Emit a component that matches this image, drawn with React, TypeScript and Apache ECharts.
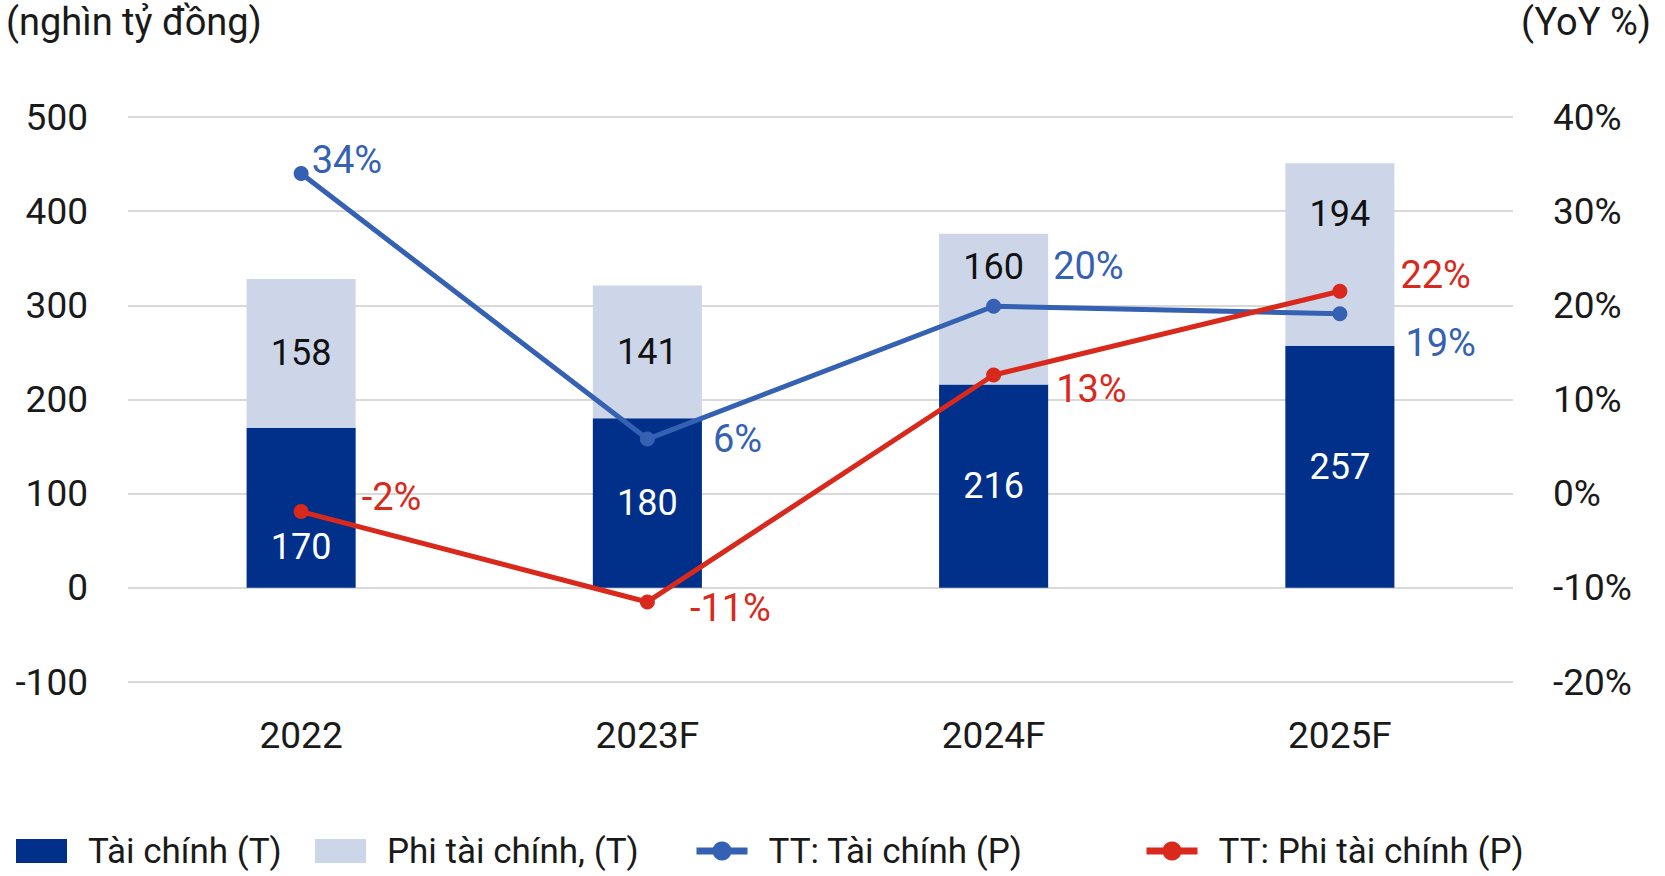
import React, { useEffect, useRef } from "react";
import * as echarts from "echarts";

const categories = ["2022", "2023F", "2024F", "2025F"];
const taiChinh = [170, 180, 216, 257];
const phiTaiChinh = [158, 141, 160, 194];
const ttTaiChinh = [34, 5.8, 19.9, 19.1];
const ttPhiTaiChinh = [-1.9, -11.5, 12.6, 21.5];

const leftTicks = { min: -100, max: 500, interval: 100 };
const rightTicks = { min: -20, max: 40, interval: 10 };

const FONT = "Roboto";
const DARK = "#00308a";
const LIGHT = "#cdd6e8";
const BLUE = "#3461b2";
const RED = "#d9291c";

// label offsets (style only)
const blueOffsets = [[3, -14], [58, 0], [52, -40], [58, 29]];
const redOffsets = [[53, -15], [35, 6], [55, 14], [53, -16]];
const darkLabelOffsets = [[0, 39], [0, 0], [0, 0], [0, 0]];
const lightLabelOffsets = [[0, 0], [0, 0], [0, -42], [0, -40]];

export default function App() {
  const ref = useRef<HTMLDivElement>(null);
  useEffect(() => {
    if (!ref.current) return;
    const chart = echarts.init(ref.current, null, { renderer: "svg" });
    const legendBase = {
      top: 828,
      itemHeight: 24,
      itemWidth: 51,
      itemGap: 10,
      textStyle: {
        fontFamily: FONT,
        fontSize: 35,
        lineHeight: 36,
        color: "#1a1a1a",
        padding: [0, 0, 0, 16],
      },
      selectedMode: false,
    };
    chart.setOption({
      animation: false,
      backgroundColor: "#ffffff",
      textStyle: { fontFamily: FONT },
      grid: { left: 128, right: 152, top: 117, bottom: 194 },
      graphic: [
        {
          type: "text",
          left: 6,
          top: 3,
          style: { text: "(nghìn tỷ đồng)", fontFamily: FONT, fontSize: 38, fill: "#1a1a1a" },
        },
        {
          type: "text",
          right: 14,
          top: 3,
          style: { text: "(YoY %)", fontFamily: FONT, fontSize: 38, fill: "#1a1a1a" },
        },
      ],
      legend: [
        { ...legendBase, left: 11, data: [{ name: "Tài chính (T)", icon: "rect" }] },
        { ...legendBase, left: 310, data: [{ name: "Phi tài chính, (T)", icon: "rect" }] },
        { ...legendBase, left: 688, data: [{ name: "TT: Tài chính (P)", lineStyle: { width: 7 } }] },
        { ...legendBase, left: 1138, data: [{ name: "TT: Phi tài chính (P)", lineStyle: { width: 7 } }] },
      ],
      xAxis: {
        type: "category",
        data: categories,
        axisLine: { show: false },
        axisTick: { show: false },
        axisLabel: { fontFamily: FONT, fontSize: 37, color: "#1a1a1a", margin: 35 },
      },
      yAxis: [
        {
          type: "value",
          ...leftTicks,
          position: "left",
          axisLine: { show: false },
          axisTick: { show: false },
          splitLine: { lineStyle: { color: "#d9d9d9", width: 2 } },
          axisLabel: { fontFamily: FONT, fontSize: 37, color: "#1a1a1a", margin: 40 },
        },
        {
          type: "value",
          ...rightTicks,
          position: "right",
          axisLine: { show: false },
          axisTick: { show: false },
          splitLine: { show: false },
          axisLabel: {
            fontFamily: FONT,
            fontSize: 37,
            color: "#1a1a1a",
            margin: 40,
            formatter: (v: number) => `${v}%`,
          },
        },
      ],
      series: [
        {
          name: "Tài chính (T)",
          type: "bar",
          stack: "total",
          barWidth: "31.5%",
          itemStyle: { color: DARK },
          data: taiChinh.map((v, i) => ({
            value: v,
            label: { offset: darkLabelOffsets[i] },
          })),
          label: {
            show: true,
            position: "inside",
            color: "#ffffff",
            fontFamily: FONT,
            fontSize: 36,
          },
          z: 2,
        },
        {
          name: "Phi tài chính, (T)",
          type: "bar",
          stack: "total",
          barWidth: "31.5%",
          itemStyle: { color: LIGHT },
          data: phiTaiChinh.map((v, i) => ({
            value: v,
            label: { offset: lightLabelOffsets[i] },
          })),
          label: {
            show: true,
            position: "inside",
            color: "#111111",
            fontFamily: FONT,
            fontSize: 36,
          },
          z: 2,
        },
        {
          name: "TT: Tài chính (P)",
          type: "line",
          yAxisIndex: 1,
          symbol: "circle",
          symbolSize: 15,
          itemStyle: { color: BLUE },
          lineStyle: { color: BLUE, width: 5 },
          data: ttTaiChinh.map((v, i) => ({
            value: v,
            label: { offset: blueOffsets[i] },
          })),
          label: {
            show: true,
            position: "right",
            distance: 0,
            color: BLUE,
            fontFamily: FONT,
            fontSize: 38,
            formatter: (p: any) => `${Math.round(p.value)}%`,
          },
          z: 5,
        },
        {
          name: "TT: Phi tài chính (P)",
          type: "line",
          yAxisIndex: 1,
          symbol: "circle",
          symbolSize: 15,
          itemStyle: { color: RED },
          lineStyle: { color: RED, width: 5 },
          data: ttPhiTaiChinh.map((v, i) => ({
            value: v,
            label: { offset: redOffsets[i] },
          })),
          label: {
            show: true,
            position: "right",
            distance: 0,
            color: RED,
            fontFamily: FONT,
            fontSize: 38,
            formatter: (p: any) => `${Math.round(p.value)}%`,
          },
          z: 5,
        },
      ],
    });
    return () => chart.dispose();
  }, []);
  return (
    <div
      ref={ref}
      style={{ position: "fixed", left: 0, top: 0, width: 1665, height: 876, background: "#fff" }}
    />
  );
}
